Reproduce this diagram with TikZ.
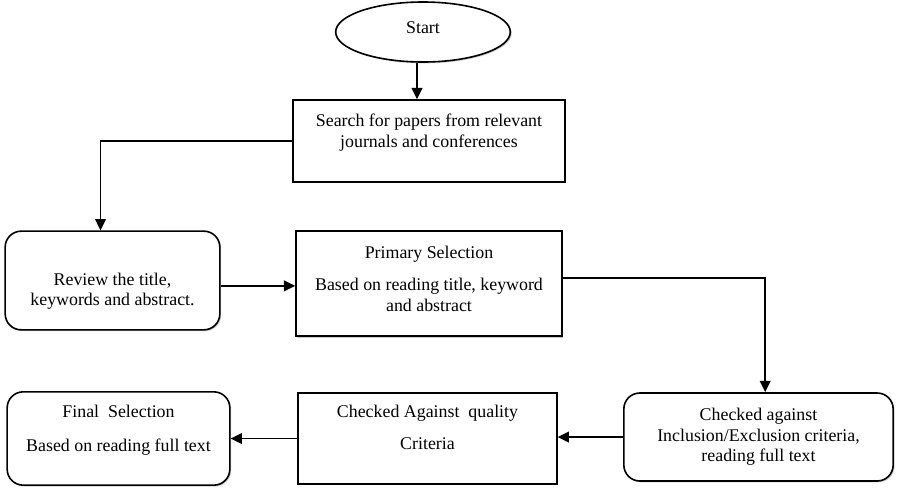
\documentclass[tikz,border=0pt]{standalone}
\usepackage{fontspec}
\setmainfont{Liberation Serif}
\usetikzlibrary{positioning}
\usetikzlibrary{shapes.geometric}
\usetikzlibrary{shadows}
\usetikzlibrary{arrows.meta}

\begin{document}
\begin{tikzpicture}
[
x=0.75pt, y=-0.75pt,
>={Triangle[length=8.5pt,width=8pt]},
font=\fontsize{13.4pt}{15.5pt}\selectfont,
plain-box/.style={rectangle, draw, fill=white, line width=1.2pt, align=center, inner sep=2pt,
                  drop shadow={shadow xshift=1pt, shadow yshift=-1pt, fill=gray!70, opacity=0.6}},
round-box/.style={plain-box, rounded corners=12pt},
oval/.style={ellipse, draw, fill=white, line width=1.2pt, inner sep=0pt, align=center,
             drop shadow={shadow xshift=1pt, shadow yshift=-1pt, fill=gray!70, opacity=0.6}},
line-a/.style={line width=1.4pt},
]
\useasboundingbox (0,0) rectangle (905,494);
\node (start)  [oval, minimum width=131pt, minimum height=45pt]        at (423,32)
      {Start\\[-9pt]\mbox{}};
\node (search) [plain-box, minimum width=204pt, minimum height=61.5pt] at (429,141)
      {Search for papers from relevant\\journals and conferences\\\mbox{}};
\node (review) [round-box, minimum width=161pt, minimum height=74pt]  at (112.5,280.5)
      {\mbox{}\\[10pt]Review the title,\\keywords and abstract.};
\node (prim)   [plain-box, minimum width=199.5pt, minimum height=79pt] at (429,283.5)
      {Primary Selection\\[8.5pt]Based on reading title, keyword\\and abstract\\[-8pt]\mbox{}};
\node (incl)   [round-box, minimum width=202pt, minimum height=66pt]  at (758.5,437)
      {Checked against\\Inclusion/Exclusion criteria,\\reading full text};
\node (qual)   [plain-box, minimum width=194pt, minimum height=68pt]  at (427.5,438.5)
      {Checked Against\ \ quality\\[8.5pt]Criteria\\[2pt]\mbox{}};
\node (final)  [round-box, minimum width=167pt, minimum height=70pt]  at (118.5,438.5)
      {Final\ \ Selection\\[10pt]Based on reading full text\\\mbox{}};
\draw [->, line-a] ([xshift=-4.5pt]start.south) -- ([xshift=-4.5pt]start.south |- search.north);
\draw [->, line-a] (search.west) -| ([xshift=-9pt]review.north);
\draw [->, line-a] ([yshift=-4pt]review.east) -- ([yshift=-4pt]review.east -| prim.west);
\draw [->, line-a] ([yshift=4pt]prim.east) -| ([xshift=5pt]incl.north);
\draw [->, line-a] (incl.west) -- (incl.west -| qual.east);
\draw [->, line-a] (qual.west) -- (final.east);
\end{tikzpicture}
\end{document}
